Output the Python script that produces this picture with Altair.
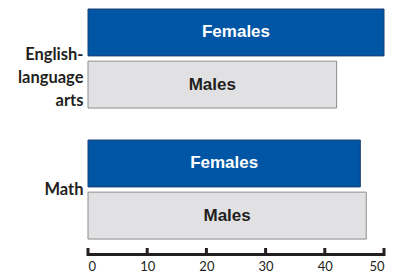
import altair as alt
import pandas as pd

subjects = ["English-language arts", "English-language arts", "Math", "Math"]
genders = ["Females", "Males", "Females", "Males"]
values = [50, 42, 46, 47]
tick_values = [0, 10, 20, 30, 40, 50]

df = pd.DataFrame({"subject": subjects, "gender": genders, "value": values})
ticks_df = pd.DataFrame({"t": tick_values})

LABEL_FONT = "Lato, sans-serif"
H = 248

xscale = alt.Scale(domain=[0, 50], nice=False, zero=True)
yscale = alt.Scale(paddingInner=0.244, paddingOuter=0.0685, align=0)

base = alt.Chart(df)

bars = base.mark_bar(strokeWidth=1).encode(
    x=alt.X("value:Q", scale=xscale,
            axis=alt.Axis(title=None, domain=False, ticks=False, grid=False,
                          values=tick_values, labelFont=LABEL_FONT, labelFontSize=13,
                          labelColor="#231f20", labelPadding=3, labelBaseline="top")),
    y=alt.Y("subject:N", scale=yscale, sort=["English-language arts", "Math"],
            axis=alt.Axis(title=None, domain=False, ticks=False,
                          labelExpr="datum.value == 'Math' ? 'Math' : ['English-', 'language', 'arts']",
                          labelFont=LABEL_FONT, labelFontSize=16.5, labelFontWeight="bold",
                          labelColor="#231f20", labelPadding=5, labelAlign="right",
                          labelOffset={"condition": {"test": "datum.value == 'Math'", "value": 0},
                                       "value": -4},
                          labelBaseline="middle", labelLineHeight=23, labelLimit=200)),
    yOffset=alt.YOffset("gender:N", sort=["Females", "Males"],
                        scale=alt.Scale(paddingInner=0.1, paddingOuter=0)),
    color=alt.Color("gender:N", legend=None,
                    scale=alt.Scale(domain=["Females", "Males"], range=["#0055a5", "#e1e1e3"])),
    stroke=alt.Stroke("gender:N", legend=None,
                      scale=alt.Scale(domain=["Females", "Males"], range=["#1d3f73", "#8c8c8c"])),
)

labels = base.transform_calculate(mid="datum.value / 2").mark_text(
    font="Liberation Sans, Arial, sans-serif", fontSize=17, fontWeight="bold",
    align="center", baseline="middle"
).encode(
    x=alt.X("mid:Q", scale=xscale),
    y=alt.Y("subject:N", scale=yscale, sort=["English-language arts", "Math"]),
    yOffset=alt.YOffset("gender:N", sort=["Females", "Males"],
                        scale=alt.Scale(paddingInner=0.1, paddingOuter=0)),
    text="gender:N",
    color=alt.Color("gender:N", legend=None,
                    scale=alt.Scale(domain=["Females", "Males"], range=["#ffffff", "#231f20"])),
)

baseline = alt.Chart(ticks_df).mark_rule(color="#231f20", strokeWidth=3, strokeCap="butt").encode(
    x=alt.datum(0, scale=xscale), x2=alt.datum(50), y=alt.value(H - 2.5)
)

tick_marks = alt.Chart(ticks_df).mark_rule(color="#231f20", strokeWidth=3).encode(
    x=alt.X("t:Q", scale=xscale), y=alt.value(H - 9), y2=alt.value(H - 1)
)

chart = alt.layer(bars, labels, baseline, tick_marks).resolve_scale(color="independent").properties(
    width=296, height=H,
    autosize=alt.AutoSizeParams(type="none"),
    padding={"left": 80, "top": 1, "right": 5, "bottom": 17},
).configure_view(stroke=None)

chart.save("out.html", embed_options={"renderer": "svg", "actions": False})
